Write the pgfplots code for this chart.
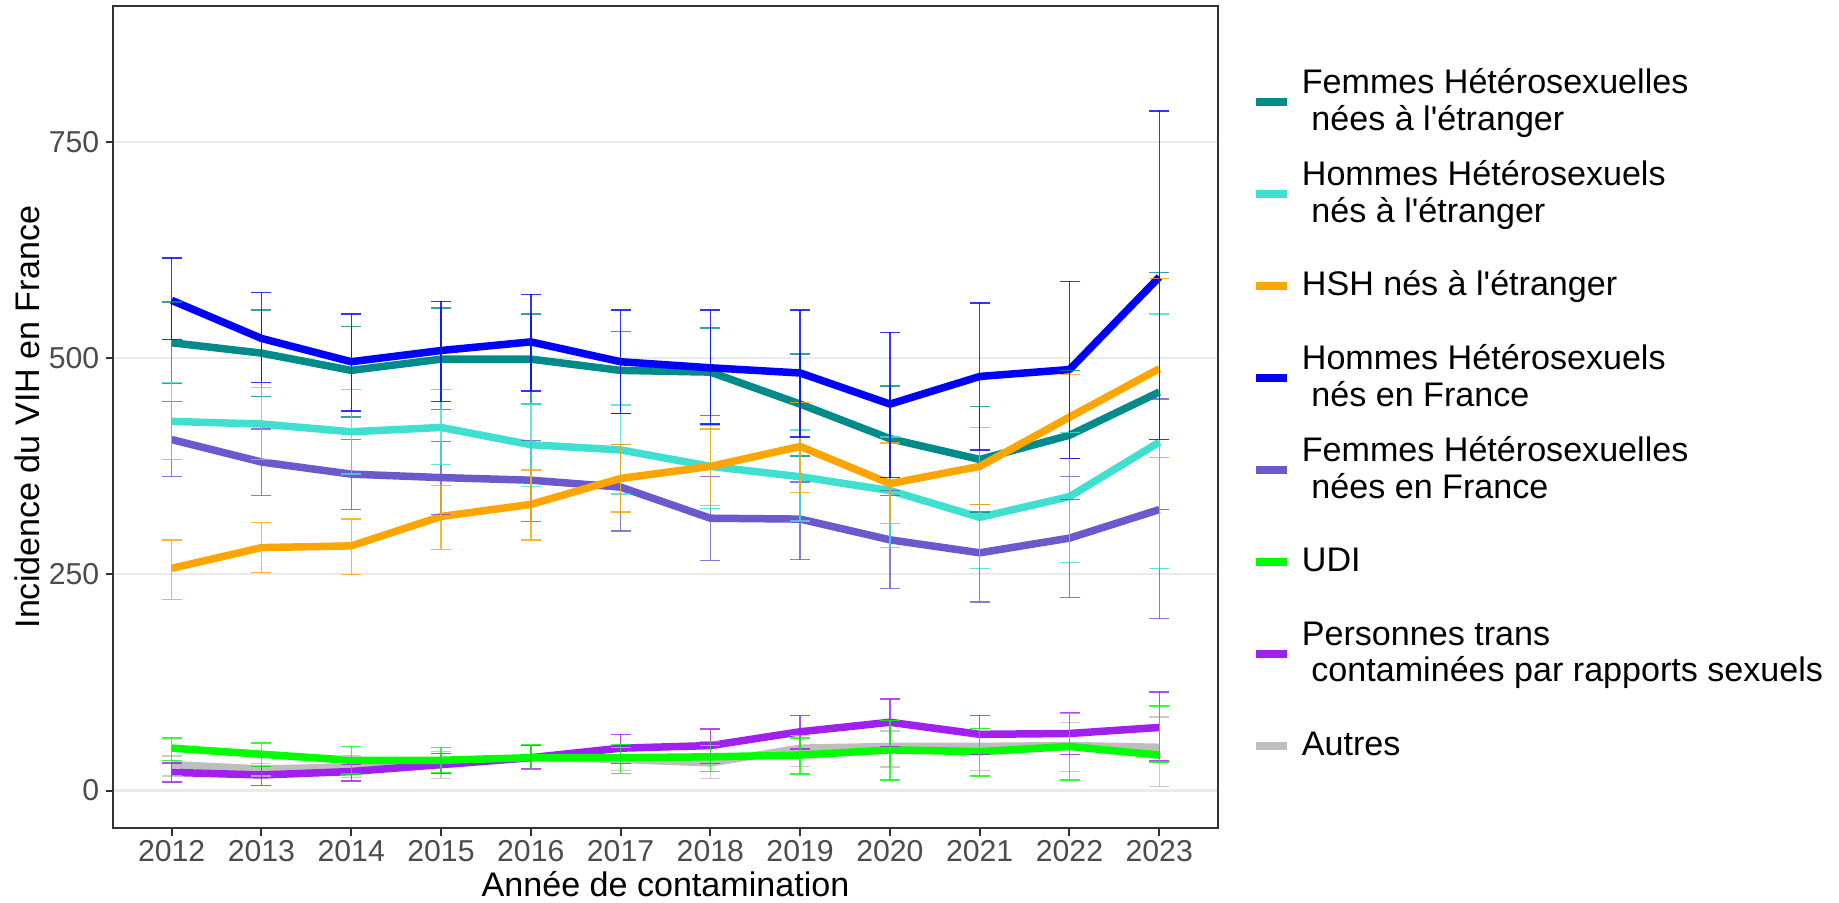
\documentclass[border=0pt]{standalone}
\usepackage{fontspec}
\setmainfont{Liberation Sans}
\usepackage{pgfplots}
\usepackage{pgfplotstable}
\pgfplotsset{compat=1.18}

\definecolor{cteal}{HTML}{008B8B}
\definecolor{cturq}{HTML}{40E0D0}
\definecolor{corange}{HTML}{FFA500}
\definecolor{cblue}{HTML}{0000FF}
\definecolor{cslate}{HTML}{6A5ACD}
\definecolor{cgreen}{HTML}{00FF00}
\definecolor{cpurple}{HTML}{A020F0}
\definecolor{cgrey}{HTML}{BEBEBE}

% Femmes hétérosexuelles nées à l'étranger
\pgfplotstableread{
x y lo hi
2012 518 471 565
2013 506 456 556
2014 486 432 537
2015 499 441 558
2016 499 447 551
2017 486 436 531
2018 484 434 535
2019 447 387 505
2020 407 341 468
2021 383 322 444
2022 411 337 486
2023 461 325 599
}\tteal
% Hommes hétérosexuels nés à l'étranger
\pgfplotstableread{
x y lo hi
2012 427 383 472
2013 424 383 466
2014 415 366 464
2015 420 377 464
2016 400 352 447
2017 394 343 446
2018 375 326 423
2019 363 312 417
2020 347 281 409
2021 316 257 376
2022 340 264 414
2023 403 257 551
}\tturq
% HSH nés à l'étranger
\pgfplotstableread{
x y lo hi
2012 257 221 290
2013 281 252 310
2014 283 250 314
2015 317 279 353
2016 331 290 371
2017 361 322 400
2018 375 330 418
2019 398 345 449
2020 355 309 402
2021 375 331 420
2022 432 384 481
2023 488 385 592
}\torange
% Hommes hétérosexuels nés en France
\pgfplotstableread{
x y lo hi
2012 567 522 616
2013 523 472 576
2014 496 439 551
2015 509 450 566
2016 519 462 574
2017 496 436 556
2018 489 424 556
2019 483 409 556
2020 447 362 530
2021 479 394 564
2022 487 384 589
2023 594 406 786
}\tblue
% Femmes hétérosexuelles nées en France
\pgfplotstableread{
x y lo hi
2012 406 363 450
2013 380 341 418
2014 366 325 406
2015 362 319 404
2016 359 311 405
2017 351 300 400
2018 315 266 363
2019 314 267 357
2020 290 234 347
2021 275 218 331
2022 292 223 363
2023 325 199 453
}\tslate
% UDI
\pgfplotstableread{
x y lo hi
2012 49 35 61
2013 42 28 55
2014 35 19 51
2015 35 21 50
2016 38 24 53
2017 38 20 53
2018 39 22 57
2019 41 19 61
2020 47 12 81
2021 45 17 72
2022 51 12 89
2023 41 33 98
}\tgreen
% Personnes trans
\pgfplotstableread{
x y lo hi
2012 21 10 32
2013 18 6 28
2014 22 11 30
2015 30 20 43
2016 38 25 52
2017 49 31 65
2018 52 31 71
2019 68 48 87
2020 79 51 106
2021 65 42 87
2022 66 42 90
2023 73 34 114
}\tpurple
% Autres
\pgfplotstableread{
x y lo hi
2012 30 17 40
2013 25 17 31
2014 27 15 40
2015 30 14 45
2016 38 24 52
2017 36 23 50
2018 32 14 52
2019 49 28 64
2020 51 27 69
2021 51 23 72
2022 52 22 79
2023 50 5 85
}\tgrey

\pgfplotsset{
  myline/.style={line width=0.75mm, line join=round, mark=none, forget plot},
  myerr/.style={forget plot, draw=none, mark=none,
    error bars/.cd, y dir=both, y explicit, error mark=|,
    error bar style={draw=#1, line width=0.4pt, opacity=0.8},
    error mark options={draw=#1, mark size=1mm, line width=0.4pt, opacity=0.8}},
}

\begin{document}
\begin{tikzpicture}
\useasboundingbox (-11.33mm,-7.37mm) rectangle (172.57mm,82.83mm);
\begin{axis}[
  at={(0,0)}, anchor=south west,
  scale only axis, width=110.44mm, height=82.23mm,
  xmin=2011.35, xmax=2023.65, ymin=-43.7, ymax=907.5,
  xtick={2012,...,2023}, ytick={0,250,500,750},
  tick pos=left, tick align=outside, major tick length=0.73mm,
  tick style={draw=black!80, line width=0.55pt},
  axis line style={draw=black!80, line width=0.55pt},
  ymajorgrids, major grid style={draw=black!8, line width=0.6pt},
  /pgf/number format/assume math mode=true,
  /pgf/number format/1000 sep={},
  tick label style={font=\fontsize{8.6}{10}\selectfont, text=black!70},
  xticklabel style={anchor=north, inner sep=0pt, yshift=-0.4mm},
  yticklabel style={anchor=east, inner sep=0pt, xshift=-0.6mm},
  xlabel={Année de contamination},
  xlabel style={at={(axis description cs:0.5,-0.0834)}, anchor=base, font=\fontsize{9.7}{11}\selectfont},
  ylabel={Incidence du VIH en France},
  ylabel style={at={(axis description cs:-0.067,0.5)}, anchor=base, font=\fontsize{9.7}{11}\selectfont},
  legend cell align=left,
  legend image code/.code={\draw[#1, line width=0.8mm] (0mm,0mm) -- (3.1mm,0mm);},
  legend style={at={(axis description cs:1.0305,0.9404)}, anchor=north west,
    draw=none, fill=none, inner sep=0pt, column sep=1.08mm, row sep=0pt,
    font=\fontsize{9.7}{10.5}\selectfont,
    nodes={inner sep=0pt, align=left, minimum height=9.21mm}},
]
% lines
\addplot[myline, cgrey] table[x=x,y=y] {\tgrey};
\addplot[myline, cteal] table[x=x,y=y] {\tteal};
\addplot[myline, cslate] table[x=x,y=y] {\tslate};
\addplot[myline, cturq] table[x=x,y=y] {\tturq};
\addplot[myline, corange] table[x=x,y=y] {\torange};
\addplot[myline, cblue] table[x=x,y=y] {\tblue};
\addplot[myline, cpurple] table[x=x,y=y] {\tpurple};
\addplot[myline, cgreen] table[x=x,y=y] {\tgreen};
% error bars
\addplot[myerr=cgrey] table[x=x,y=y,y error plus expr=\thisrow{hi}-\thisrow{y},y error minus expr=\thisrow{y}-\thisrow{lo}] {\tgrey};
\addplot[myerr=cteal] table[x=x,y=y,y error plus expr=\thisrow{hi}-\thisrow{y},y error minus expr=\thisrow{y}-\thisrow{lo}] {\tteal};
\addplot[myerr=cslate] table[x=x,y=y,y error plus expr=\thisrow{hi}-\thisrow{y},y error minus expr=\thisrow{y}-\thisrow{lo}] {\tslate};
\addplot[myerr=cturq] table[x=x,y=y,y error plus expr=\thisrow{hi}-\thisrow{y},y error minus expr=\thisrow{y}-\thisrow{lo}] {\tturq};
\addplot[myerr=corange] table[x=x,y=y,y error plus expr=\thisrow{hi}-\thisrow{y},y error minus expr=\thisrow{y}-\thisrow{lo}] {\torange};
\addplot[myerr=cblue] table[x=x,y=y,y error plus expr=\thisrow{hi}-\thisrow{y},y error minus expr=\thisrow{y}-\thisrow{lo}] {\tblue};
\addplot[myerr=cpurple] table[x=x,y=y,y error plus expr=\thisrow{hi}-\thisrow{y},y error minus expr=\thisrow{y}-\thisrow{lo}] {\tpurple};
\addplot[myerr=cgreen] table[x=x,y=y,y error plus expr=\thisrow{hi}-\thisrow{y},y error minus expr=\thisrow{y}-\thisrow{lo}] {\tgreen};
% legend
\addlegendimage{cteal}
\addlegendentry{Femmes Hétérosexuelles\\\hspace*{0.28em}nées à l\textquotesingle étranger}
\addlegendimage{cturq}
\addlegendentry{Hommes Hétérosexuels\\\hspace*{0.28em}nés à l\textquotesingle étranger}
\addlegendimage{corange}
\addlegendentry{HSH nés à l\textquotesingle étranger}
\addlegendimage{cblue}
\addlegendentry{Hommes Hétérosexuels\\\hspace*{0.28em}nés en France}
\addlegendimage{cslate}
\addlegendentry{Femmes Hétérosexuelles\\\hspace*{0.28em}nées en France}
\addlegendimage{cgreen}
\addlegendentry{UDI}
\addlegendimage{cpurple}
\addlegendentry{Personnes trans\\\hspace*{0.28em}contaminées par rapports sexuels}
\addlegendimage{cgrey}
\addlegendentry{Autres}
\end{axis}
\end{tikzpicture}
\end{document}
